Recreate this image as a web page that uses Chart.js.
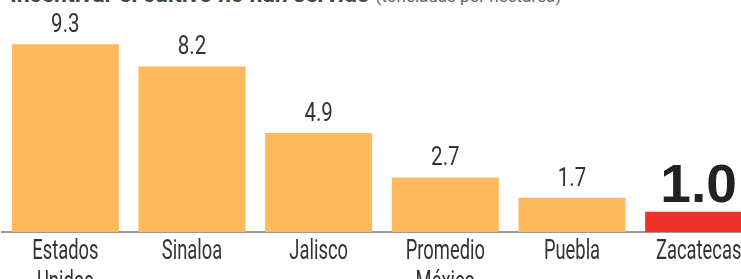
<!DOCTYPE html>
<html>
<head>
<meta charset="utf-8">
<script src="https://cdn.jsdelivr.net/npm/chart.js@4"></script>
<style>
  html, body { margin: 0; padding: 0; background: #fff; overflow: hidden; width: 741px; height: 279px; }
  #wrap { position: absolute; left: 0; top: 0; width: 762px; height: 279px; }
  #title { position: absolute; left: 10px; top: -17px; font-family: 'Roboto', sans-serif;
           font-size: 23px; line-height: 24px; color: #444; white-space: nowrap; font-weight: bold; }
  #title span { font-weight: normal; font-size: 17px; color: #666; }
</style>
</head>
<body>
<div id="title">Incentivar el cultivo no han servido <span>(toneladas por hectárea)</span></div>
<div id="wrap"><canvas id="myChart"></canvas></div>
<script>
const categories = [['Estados', 'Unidos'], 'Sinaloa', 'Jalisco', ['Promedio', 'México'], 'Puebla', 'Zacatecas'];
const values = [9.3, 8.2, 4.9, 2.7, 1.7, 1.0];
const barColors = ['#fdb95b', '#fdb95b', '#fdb95b', '#fdb95b', '#fdb95b', '#ee3229'];
const highlight = 5;

// the reference uses a condensed face, so squeeze Roboto horizontally
function squeezeText(ctx, txt, x, y, sx) {
    ctx.save();
    ctx.translate(x, y);
    ctx.scale(sx, 1);
    ctx.fillText(txt, 0, 0);
    ctx.restore();
}

const condensedText = {
    id: 'condensedText',
    afterDraw(chart) {
        const ctx = chart.ctx;
        const meta = chart.getDatasetMeta(0);
        const xScale = chart.scales.x;
        ctx.save();
        ctx.textAlign = 'center';
        ctx.textBaseline = 'alphabetic';

        // value labels
        meta.data.forEach((bar, i) => {
            if (i == highlight) {
                ctx.font = "bold 53px 'Liberation Sans', Arial, sans-serif";
                ctx.fillStyle = '#222';
                squeezeText(ctx, values[i].toFixed(1), bar.x, bar.y - 10, 1.04);
            } else {
                ctx.font = "25px Roboto, sans-serif";
                ctx.fillStyle = '#333';
                squeezeText(ctx, values[i].toFixed(1), bar.x, bar.y - 12, 0.82);
            }
        });

        // category labels
        ctx.font = "27px Roboto, sans-serif";
        ctx.fillStyle = '#333';
        categories.forEach((lab, i) => {
            const x = xScale.getPixelForTick(i);
            const lines = Array.isArray(lab) ? lab : [lab];
            lines.forEach((ln, j) => {
                squeezeText(ctx, ln, x, chart.chartArea.bottom + 27 + j * 31, 0.68);
            });
        });
        ctx.restore();
    }
};

const ctx = document.getElementById('myChart').getContext('2d');
const myChart = new Chart(ctx, {
    type: 'bar',
    data: {
        labels: categories,
        datasets: [{
            data: values,
            backgroundColor: barColors,
            borderWidth: 0,
            barPercentage: 0.845,
            categoryPercentage: 1
        }]
    },
    options: {
        responsive: true,
        maintainAspectRatio: false,
        animation: false,
        layout: { padding: { left: 2, right: 0, top: 0, bottom: 39 } },
        plugins: {
            legend: { display: false },
            tooltip: { enabled: false }
        },
        scales: {
            x: {
                grid: { display: false },
                border: { color: '#999', width: 2 },
                ticks: { display: false }
            },
            y: {
                display: false,
                min: 0,
                max: 11.49
            }
        }
    },
    plugins: [condensedText]
});
</script>
</body>
</html>
